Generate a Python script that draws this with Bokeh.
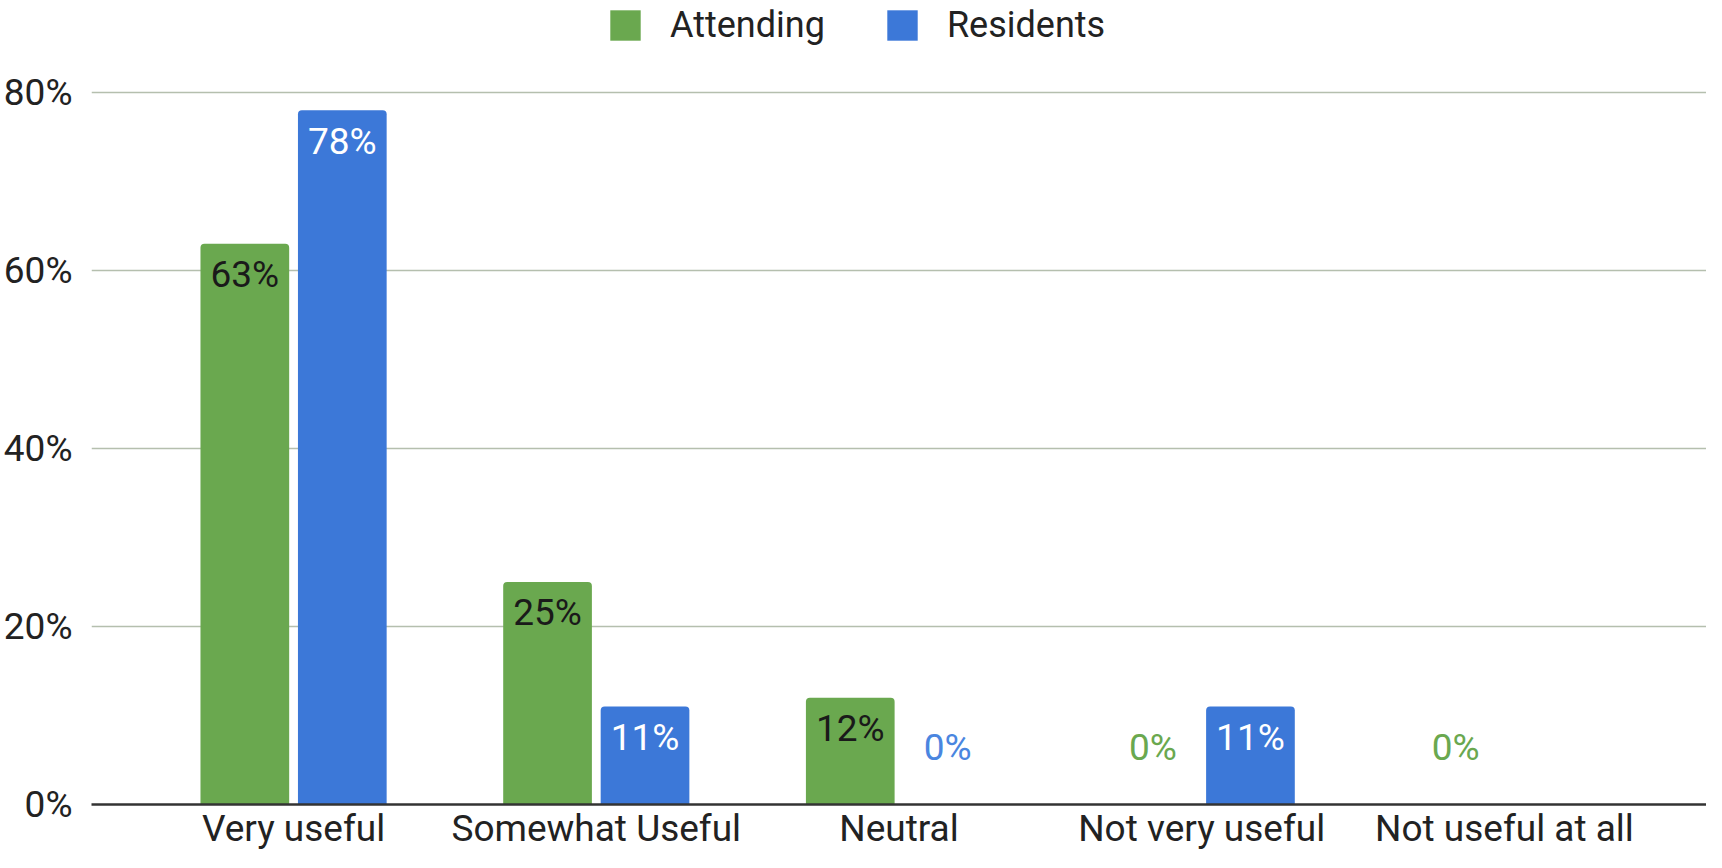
from bokeh.plotting import figure
from bokeh.models import ColumnDataSource, FactorRange, Legend, LegendItem, PrintfTickFormatter, FixedTicker, Range1d
from bokeh.transform import dodge
from bokeh.core.properties import value
from bokeh.embed import file_html
from bokeh.resources import INLINE

categories = ["Very useful", "Somewhat Useful", "Neutral", "Not very useful", "Not useful at all"]
attending = [63, 25, 12, 0, 0]
residents = [78, 11, 0, 11, 0]
attending_labels = ["63%", "25%", "12%", "0%", "0%"]
residents_labels = ["78%", "11%", "0%", "11%", ""]
y_ticks = [0, 20, 40, 60, 80]

GREEN = "#6aa84f"
BLUE = "#3c78d8"
FONT = "Roboto"
FS = "37px"

def make_src(vals, labels, inside_color, zero_color):
    return ColumnDataSource(dict(
        cat=categories,
        val=vals,
        label=labels,
        yoff=[31 if v > 0 else -57 for v in vals],
        tcolor=[inside_color if v > 0 else zero_color for v in vals],
    ))

src_a = make_src(attending, attending_labels, "#1a1a1a", GREEN)
src_r = make_src(residents, residents_labels, "#ffffff", "#4a86e0")

p = figure(x_range=FactorRange(*categories, range_padding=0.067, range_padding_units="percent"),
           y_range=Range1d(0, 90.33),
           width=1706, height=852, output_backend="svg", toolbar_location=None,
           min_border_left=84, min_border_right=0, min_border_top=0, min_border_bottom=0)
p.outline_line_color = None
p.background_fill_color = "white"

off = 0.161
bw = 0.293
ra = p.vbar(x=dodge("cat", -off, range=p.x_range), top="val", bottom=0, width=bw, source=src_a,
            fill_color=GREEN, line_color=None, border_radius=(4, 4, 0, 0))
rr = p.vbar(x=dodge("cat", off, range=p.x_range), top="val", bottom=0, width=bw, source=src_r,
            fill_color=BLUE, line_color=None, border_radius=(4, 4, 0, 0))

for src, o in ((src_a, -off), (src_r, off)):
    p.text(x=dodge("cat", o, range=p.x_range), y="val", text="label", source=src,
           y_offset="yoff", text_color="tcolor", text_align="center", text_baseline="middle",
           text_font=value(FONT), text_font_size="37px")

p.xgrid.grid_line_color = None
p.ygrid.grid_line_color = "#b5bfae"
p.ygrid.grid_line_width = 1.5
p.ygrid.ticker = FixedTicker(ticks=y_ticks[1:])

p.yaxis.ticker = FixedTicker(ticks=y_ticks)
p.yaxis.formatter = PrintfTickFormatter(format="%d%%")
p.yaxis.axis_line_color = None
p.yaxis.major_tick_line_color = None
p.yaxis.minor_tick_line_color = None
p.yaxis.major_tick_out = 0
p.yaxis.major_label_standoff = 19
p.yaxis.major_label_text_font = FONT
p.yaxis.major_label_text_font_size = FS
p.yaxis.major_label_text_color = "#222222"

p.xaxis.axis_line_color = "#333333"
p.xaxis.axis_line_width = 2.5
p.xaxis.major_tick_line_color = None
p.xaxis.minor_tick_line_color = None
p.xaxis.major_tick_out = 0
p.xaxis.major_label_standoff = 2
p.xaxis.major_label_text_font = FONT
p.xaxis.major_label_text_font_size = FS
p.xaxis.major_label_text_color = "#222222"

legend = Legend(items=[LegendItem(label="Attending", renderers=[ra]),
                       LegendItem(label="Residents", renderers=[rr])],
                orientation="horizontal", location=(515, 758),
                glyph_width=38, glyph_height=38, label_standoff=26, spacing=58,
                label_text_font=FONT, label_text_font_size="36px", label_text_color="#222222",
                border_line_color=None, background_fill_alpha=0, padding=0, margin=0,
                label_height=38)
p.add_layout(legend, "center")

open("out.html", "w").write(file_html(p, INLINE))
